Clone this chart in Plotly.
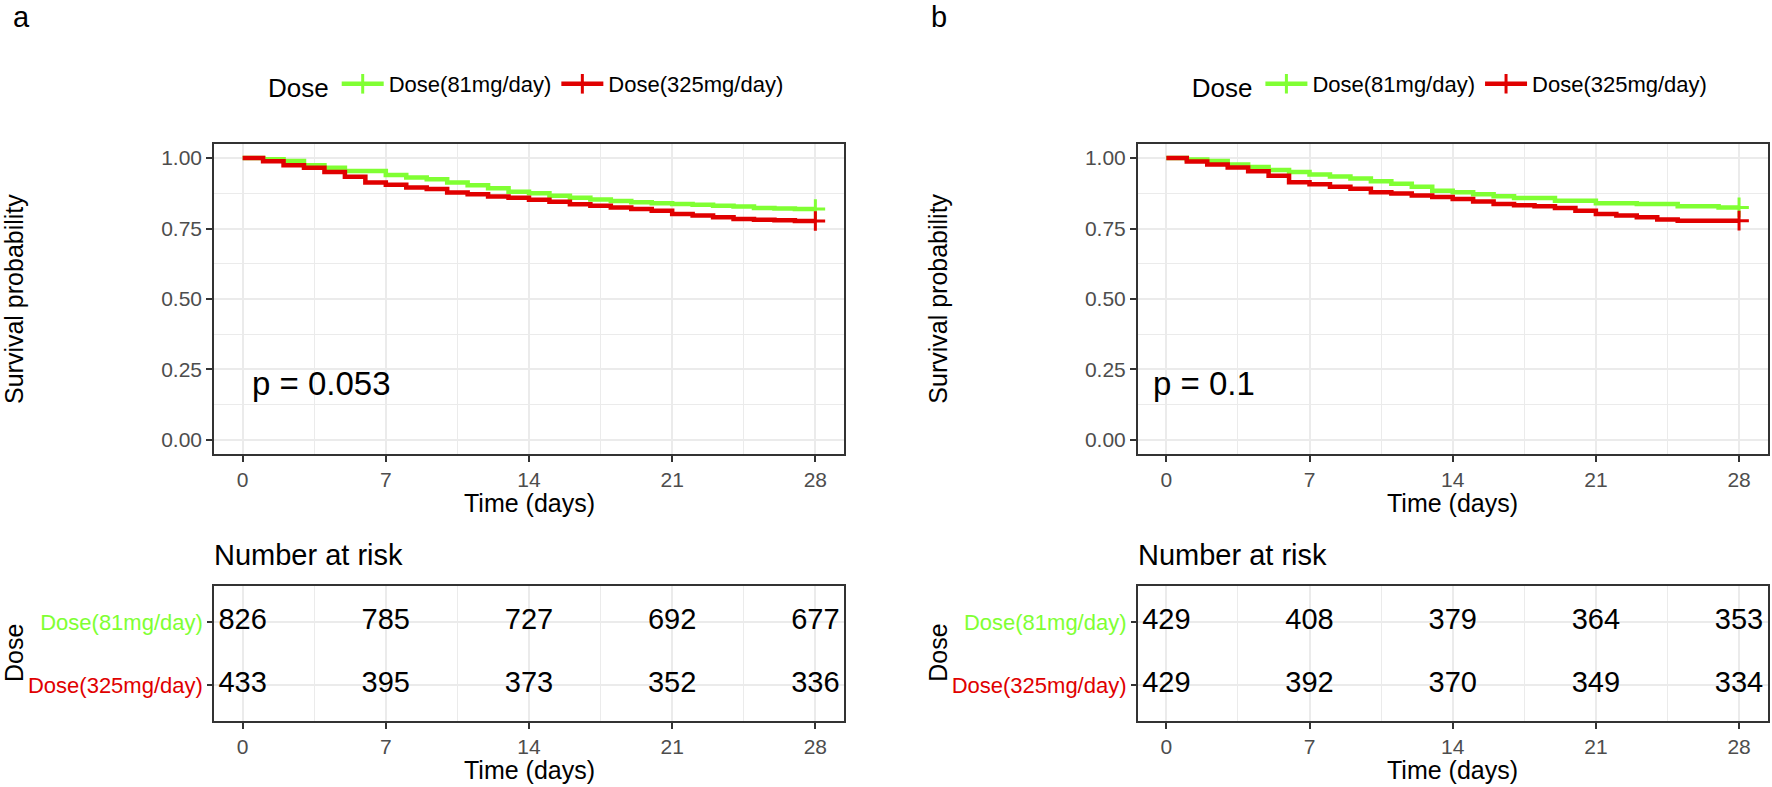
import plotly.graph_objects as go

W, H = 1772, 787

# ---------------- data ----------------
days = list(range(29))
groups = ["Dose(81mg/day)", "Dose(325mg/day)"]

surv_a_81 = [1.000, 0.996, 0.990, 0.975, 0.966, 0.954, 0.954, 0.940, 0.931, 0.925,
             0.913, 0.904, 0.893, 0.881, 0.875, 0.866, 0.859, 0.853, 0.848, 0.843,
             0.840, 0.837, 0.834, 0.831, 0.828, 0.823, 0.821, 0.819, 0.819]
surv_a_325 = [1.000, 0.989, 0.975, 0.966, 0.951, 0.934, 0.913, 0.905, 0.896, 0.890,
              0.878, 0.872, 0.864, 0.859, 0.852, 0.845, 0.836, 0.831, 0.825, 0.819,
              0.813, 0.802, 0.796, 0.790, 0.784, 0.781, 0.779, 0.777, 0.777]
surv_b_81 = [1.000, 0.995, 0.990, 0.977, 0.968, 0.958, 0.951, 0.942, 0.935, 0.928,
             0.918, 0.909, 0.898, 0.884, 0.879, 0.872, 0.865, 0.858, 0.858, 0.849,
             0.849, 0.840, 0.840, 0.837, 0.837, 0.829, 0.829, 0.825, 0.825]
surv_b_325 = [1.000, 0.988, 0.977, 0.967, 0.953, 0.937, 0.914, 0.907, 0.898, 0.891,
              0.879, 0.874, 0.867, 0.862, 0.855, 0.846, 0.837, 0.833, 0.829, 0.823,
              0.813, 0.802, 0.796, 0.790, 0.782, 0.778, 0.778, 0.778, 0.778]

risk_times = [0, 7, 14, 21, 28]
risk_a_81 = [826, 785, 727, 692, 677]
risk_a_325 = [433, 395, 373, 352, 336]
risk_b_81 = [429, 408, 379, 364, 353]
risk_b_325 = [429, 392, 370, 349, 334]

pvals = ["p = 0.053", "p = 0.1"]
pval_x = [0.35, -0.75]
pval_y = 0.2
panel_tags = ["a", "b"]
x_ticks = [0, 7, 14, 21, 28]
y_ticks = [0, 0.25, 0.5, 0.75, 1.0]

colors = ["#80FF33", "#E00000"]
FONT = "Liberation Sans, Arial, sans-serif"
GRID = "#EBEBEB"
FRAME = "#333333"
TICKC = "#4D4D4D"


def fx(p):
    return p / W


def fy(p):
    return 1 - p / H


panels = [
    dict(left=214.0, surv=[surv_a_81, surv_a_325], risk=[risk_a_81, risk_a_325]),
    dict(left=1137.7, surv=[surv_b_81, surv_b_325], risk=[risk_b_81, risk_b_325]),
]
PW = 630.0

fig = go.Figure()
layout = dict(
    width=W, height=H, margin=dict(l=0, r=0, t=0, b=0),
    plot_bgcolor="white", paper_bgcolor="white",
    font=dict(family=FONT, color="black"),
    showlegend=True,
)
annotations = []

for i, pnl in enumerate(panels):
    k = 2 * i + 1
    xm, ym = f"x{'' if k == 1 else k}", f"y{'' if k == 1 else k}"
    xt, yt = f"x{k + 1}", f"y{k + 1}"
    leg = "legend" if i == 0 else "legend2"
    L = pnl["left"]
    dom = [fx(L), fx(L + PW)]

    common_x = dict(
        range=[-1.4, 29.4], tickvals=x_ticks, showgrid=True, gridcolor=GRID, gridwidth=1.6,
        minor=dict(dtick=3.5, tick0=0, showgrid=True, gridcolor=GRID, gridwidth=0.9),
        showline=True, linecolor=FRAME, linewidth=1.5, mirror=True,
        ticks="outside", ticklen=6, tickwidth=1.5, tickcolor=FRAME,
        tickfont=dict(size=21, color=TICKC, family=FONT), zeroline=False,
        domain=dom,
    )
    layout[f"xaxis{'' if k == 1 else k}"] = dict(common_x, anchor=ym)
    layout[f"yaxis{'' if k == 1 else k}"] = dict(
        range=[-0.05, 1.05], tickvals=y_ticks, tickformat=".2f",
        showgrid=True, gridcolor=GRID, gridwidth=1.6,
        minor=dict(dtick=0.125, tick0=0, showgrid=True, gridcolor=GRID, gridwidth=0.9),
        showline=True, linecolor=FRAME, linewidth=1.5, mirror=True,
        ticks="outside", ticklen=6, tickwidth=1.5, tickcolor=FRAME,
        tickfont=dict(size=21, color=TICKC, family=FONT), zeroline=False,
        domain=[fy(454), fy(144)], anchor=xm,
    )
    layout[f"xaxis{k + 1}"] = dict(common_x, anchor=yt)
    layout[f"yaxis{k + 1}"] = dict(
        range=[0.43, 2.57], tickvals=[2, 1],
        ticktext=[f'<span style="color:{colors[0]}">{groups[0]}</span>',
                  f'<span style="color:{colors[1]}">{groups[1]}</span>'],
        showgrid=True, gridcolor=GRID, gridwidth=1.6,
        showline=True, linecolor=FRAME, linewidth=1.5, mirror=True,
        ticks="outside", ticklen=5, tickwidth=1.5, tickcolor=FRAME,
        tickfont=dict(size=22, family=FONT), zeroline=False,
        domain=[fy(721), fy(586)], anchor=xt,
    )

    # survival curves
    for g in range(2):
        fig.add_trace(go.Scatter(
            x=days, y=pnl["surv"][g], mode="lines", line=dict(color=colors[g], width=4.5, shape="hv"),
            xaxis=xm, yaxis=ym, showlegend=False, hoverinfo="skip"))
    for g in range(2):
        fig.add_trace(go.Scatter(
            x=[days[-1]], y=[pnl["surv"][g][-1]], mode="markers",
            marker=dict(symbol="cross-thin", size=14, color=colors[g],
                        line=dict(color=colors[g], width=3)),
            xaxis=xm, yaxis=ym, showlegend=False, hoverinfo="skip"))
    # legend entries
    for g in range(2):
        fig.add_trace(go.Scatter(
            x=[None], y=[None], mode="lines+markers", name=groups[g],
            line=dict(color=colors[g], width=4.5),
            marker=dict(symbol="line-ns", size=14, color=colors[g],
                        line=dict(color=colors[g], width=3)),
            xaxis=xm, yaxis=ym, legend=leg, showlegend=True))
    # risk table
    fig.add_trace(go.Scatter(
        x=risk_times + risk_times, y=[2] * len(risk_times) + [1] * len(risk_times),
        text=[str(v) for v in pnl["risk"][0] + pnl["risk"][1]], mode="text",
        textposition="middle center", textfont=dict(size=29, color="black", family=FONT),
        xaxis=xt, yaxis=yt, showlegend=False, hoverinfo="skip"))

    layout[leg] = dict(
        orientation="h", x=fx(L + 52), y=fy(85), xanchor="left", yanchor="middle",
        title=dict(text="Dose", side="left", font=dict(size=26, family=FONT)),
        font=dict(size=22, family=FONT), itemwidth=42, bgcolor="rgba(0,0,0,0)",
        traceorder="normal",
    )

    # p-value
    annotations.append(dict(text=pvals[i], x=pval_x[i], y=pval_y, xref=xm, yref=ym, xanchor="left",
                            yanchor="middle", showarrow=False, font=dict(size=33, family=FONT)))
    # titles
    annotations.append(dict(text=panel_tags[i], x=fx(L - 203 + (0 if i == 0 else -6)), y=fy(17),
                            xref="paper", yref="paper", xanchor="left", yanchor="middle",
                            showarrow=False, font=dict(size=29, family=FONT)))
    annotations.append(dict(text="Survival probability", x=fx(L - 200), y=fy(299), xref="paper",
                            yref="paper", textangle=-90, xanchor="center", yanchor="middle",
                            showarrow=False, font=dict(size=25, family=FONT)))
    annotations.append(dict(text="Time (days)", x=fx(L + PW / 2), y=fy(503), xref="paper",
                            yref="paper", xanchor="center", yanchor="middle",
                            showarrow=False, font=dict(size=25, family=FONT)))
    annotations.append(dict(text="Number at risk", x=fx(L - 2), y=fy(555), xref="paper",
                            yref="paper", xanchor="left", yanchor="middle",
                            showarrow=False, font=dict(size=29, family=FONT)))
    annotations.append(dict(text="Dose", x=fx(L - 200), y=fy(653), xref="paper",
                            yref="paper", textangle=-90, xanchor="center", yanchor="middle",
                            showarrow=False, font=dict(size=25, family=FONT)))
    annotations.append(dict(text="Time (days)", x=fx(L + PW / 2), y=fy(770), xref="paper",
                            yref="paper", xanchor="center", yanchor="middle",
                            showarrow=False, font=dict(size=25, family=FONT)))

layout["annotations"] = annotations
fig.update_layout(**layout)
fig.write_html(
    "out.html",
    config={"displayModeBar": False},
    post_script="document.body.style.margin='0px';document.body.style.overflow='hidden';",
)
